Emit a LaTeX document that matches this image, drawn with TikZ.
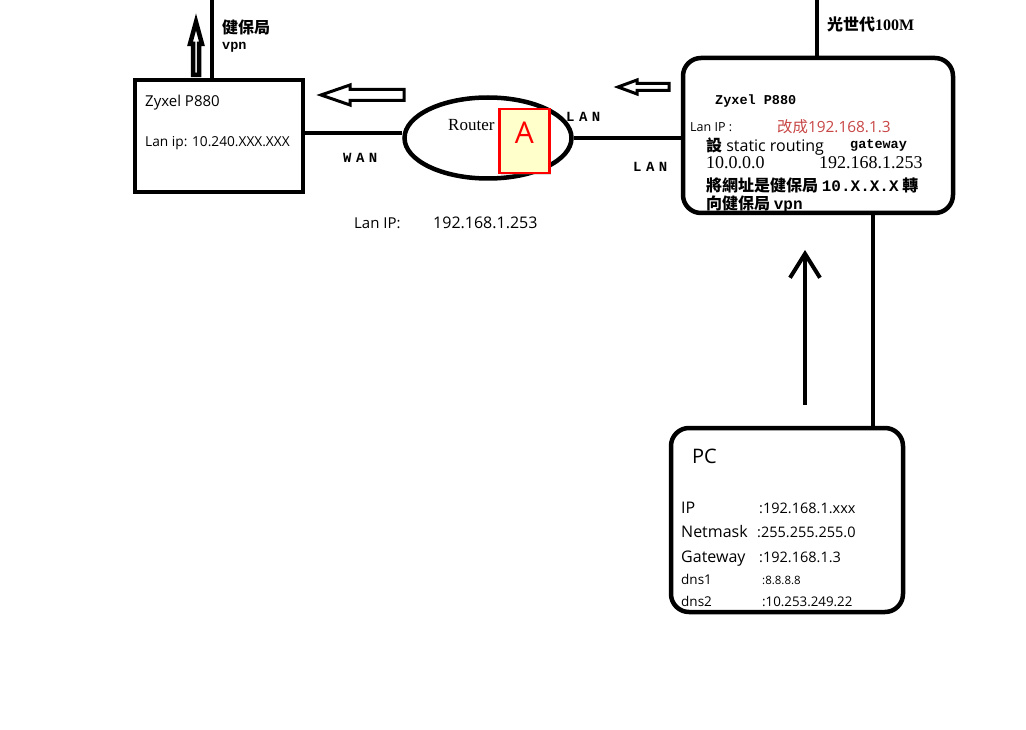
\documentclass[tikz,border=0pt]{standalone}
\usepackage{fontspec}
\usepackage{tikz}
\usetikzlibrary{arrows.meta,shapes.geometric,shadows}
\setmainfont{Liberation Serif}
\newfontfamily\cjk{Noto Sans CJK TC}
\newfontfamily\uifont{Open Sans}
\newfontfamily\mingfont{Liberation Mono}
\newfontfamily\spacedfont[LetterSpace=32]{Liberation Mono}
\definecolor{notefill}{RGB}{255,255,204}
\definecolor{notered}{RGB}{255,0,0}
\definecolor{editred}{RGB}{200,70,70}
\tikzset{
  wire/.style={line width=4.5pt},
  device/.style={draw,line width=4.5pt,inner sep=0pt},
  hollowarrow/.style={draw,fill=white,line width=3pt,line join=miter},
  label/.style={anchor=west,inner sep=0pt},
  uitext/.style={label,font=\uifont\fontsize{14}{16}\selectfont},
  pctext/.style={anchor=base west,inner sep=0pt,font=\uifont\fontsize{16}{18}\selectfont},
  monotext/.style={label,font=\mingfont\bfseries\fontsize{13.5}{16}\selectfont},
  porttext/.style={label,font=\spacedfont\bfseries\fontsize{14}{16}\selectfont},
  cjktext/.style={label,font=\cjk\bfseries\fontsize{16}{18}\selectfont}
}

\begin{document}
\begin{tikzpicture}[x=1pt,y=-1pt]
  \useasboundingbox (0,0) rectangle (1026,730);

  % devices
  \node[device,minimum width=168pt,minimum height=112pt] (leftbox) at (219,136) {};
  \node[device,ellipse,minimum width=167pt,minimum height=81pt] (router) at (488,138) {};
  \node[device,rounded corners=18pt,minimum width=270pt,minimum height=155pt] (rightbox) at (818,135.5) {};
  \node[device,rounded corners=18pt,minimum width=232pt,minimum height=184pt] (pc) at (787,520) {};

  % free ends and links
  \coordinate (vpnend) at (212,0);
  \coordinate (fiberend) at (817,0);
  \coordinate (pclink) at (873,0);
  \draw[wire] (vpnend) -- (vpnend |- leftbox.north);
  \draw[wire] (fiberend) -- (fiberend |- rightbox.north);
  \draw[wire] (leftbox.east |- 0,133) -- (router.west |- 0,133);
  \draw[wire] (router.east) -- (rightbox.west |- router.east);
  \draw[wire] (pclink |- rightbox.south) -- (pclink |- pc.north);

  % arrows
  \draw[hollowarrow,line width=4.5pt] (196,22) -- (202,44) -- (199,44) -- (199,75) -- (193,75) -- (193,44) -- (190,44) -- cycle;
  \draw[hollowarrow] (321,95) -- (350,85) -- (350,89.5) -- (404,89.5) -- (404,100.5) -- (350,100.5) -- (350,105) -- cycle;
  \draw[hollowarrow] (618,87) -- (637,80) -- (637,83.5) -- (669,83.5) -- (669,90.5) -- (637,90.5) -- (637,94) -- cycle;
  \coordinate (uptail) at (805,405);
  \coordinate (uphead) at (805,250);
  \draw[line width=4pt,-{Straight Barb[length=24pt,width=30pt,line width=4pt]}] (uptail) -- (uphead);

  % sticky note
  \node[draw=notered,line width=2.5pt,fill=notefill,minimum width=50pt,minimum height=64pt,
    drop shadow={opacity=0.25,shadow xshift=2pt,shadow yshift=-2pt},
    font=\uifont\fontsize{30}{32}\selectfont,text=notered,anchor=north west,inner sep=0pt] (note) at (498,108)
    {\raisebox{18pt}{A}\hspace{4pt}};

  % left side labels
  \node[cjktext] (vpnlabel) at (222,27) {健保局};
  \node[monotext] (vpntext) at (222,47) {vpn};
  \node[uitext,font=\uifont\fontsize{15}{17}\selectfont] (lefttitle) at (145,103) {Zyxel P880};
  \node[uitext,font=\uifont\fontsize{13.7}{15}\selectfont] (leftip) at (145,143) {Lan ip: 10.240.XXX.XXX};
  \node[porttext] (wan) at (343,158) {WAN};
  \node[label,font=\fontsize{17}{19}\selectfont] (routerlabel) at (448,125) {Router};
  \node[porttext] (lan1) at (566,117) {LAN};
  \node[porttext] (lan2) at (633,167) {LAN};
  \node[uitext,font=\uifont\fontsize{15}{17}\selectfont] (routerip) at (354,223) {Lan IP:};
  \node[uitext,font=\uifont\fontsize{16}{18}\selectfont] (routeripval) at (433,223) {192.168.1.253};

  % right box labels
  \node[label,font=\fontsize{16}{18}\selectfont] (fiber) at (827,24) {{\cjk\bfseries 光世代}\textbf{100M}};
  \node[monotext] (righttitle) at (715,101) {Zyxel P880};
  \node[uitext,font=\uifont\fontsize{12.5}{14}\selectfont] (rightip) at (690,127) {Lan IP :};
  \node[uitext,text=editred,font=\uifont\fontsize{15.4}{17}\selectfont] (newip) at (777,127) {{\cjk 改成}192.168.1.3};
  \node[uitext,font=\uifont\fontsize{16}{18}\selectfont] (routing) at (706,147) {{\cjk\bfseries 設} static routing};
  \node[monotext] (gateway) at (850,145) {gateway};
  \node[label,font=\fontsize{18}{20}\selectfont] (dest) at (706,163) {10.0.0.0};
  \node[label,font=\fontsize{18}{20}\selectfont] (gwip) at (819,163) {192.168.1.253};
  \node[cjktext] (note1) at (706,185) {將網址是健保局 {\mingfont\bfseries 10.X.X.X} 轉};
  \node[cjktext] (note2) at (706,204) {向健保局 {\mingfont\bfseries vpn}};

  % pc labels (baselines)
  \node[pctext,font=\uifont\fontsize{20}{22}\selectfont] (pctitle) at (692,463) {PC};
  \node[pctext] (ipkey) at (681,513) {IP};
  \node[pctext,font=\uifont\fontsize{14.5}{17}\selectfont] (ipval) at (759,513) {:192.168.1.xxx};
  \node[pctext] (maskkey) at (681,537) {Netmask};
  \node[pctext,font=\uifont\fontsize{14.5}{17}\selectfont] (maskval) at (757,537) {:255.255.255.0};
  \node[pctext] (gwkey) at (681,562) {Gateway};
  \node[pctext,font=\uifont\fontsize{14.5}{17}\selectfont] (gwval) at (759,562) {:192.168.1.3};
  \node[pctext,font=\uifont\fontsize{13.5}{15}\selectfont] (dnskey1) at (681,584) {dns1};
  \node[pctext,font=\uifont\fontsize{11.5}{13}\selectfont] (dnsval1) at (762,584) {:8.8.8.8};
  \node[pctext,font=\uifont\fontsize{13.5}{15}\selectfont] (dnskey2) at (681,606) {dns2};
  \node[pctext,font=\uifont\fontsize{13.3}{15}\selectfont] (dnsval2) at (762,606) {:10.253.249.22};
\end{tikzpicture}
\end{document}
